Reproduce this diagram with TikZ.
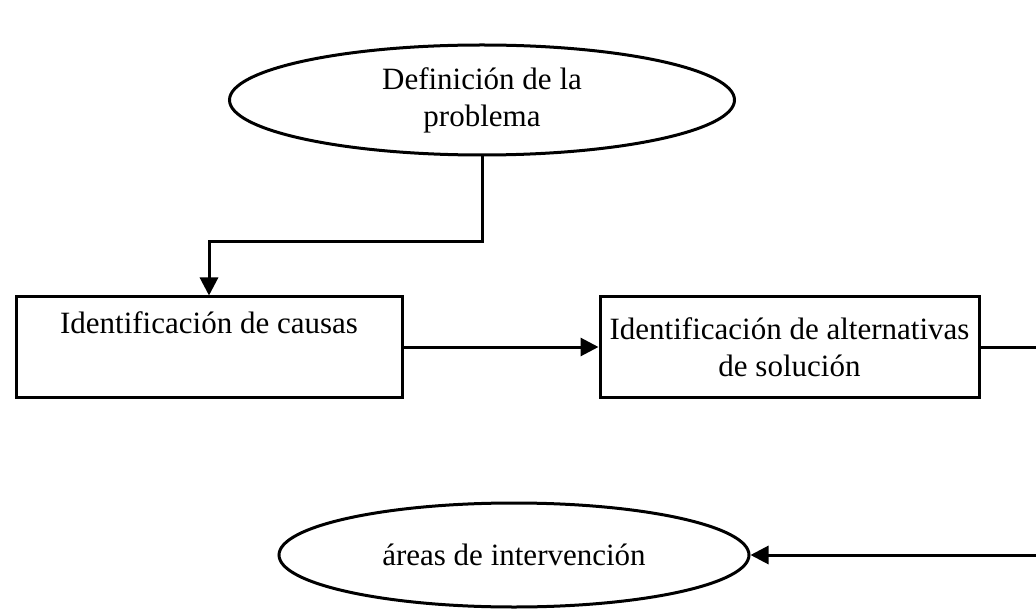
\documentclass[tikz,border=0pt]{standalone}
\usepackage{fontspec}
\setmainfont{Liberation Serif}
\usetikzlibrary{arrows.meta,shapes.geometric}
\begin{document}
\begin{tikzpicture}[x=1pt,y=-1pt,
  every node/.style={font=\fontsize{31}{37}\selectfont, align=center, line width=3pt, inner sep=0pt},
  ovalbox/.style={draw, ellipse},
  rectbox/.style={draw, rectangle, minimum width=386pt, minimum height=100pt},
  conn/.style={line width=3pt, -{Triangle[length=18pt,width=18pt]}}]
\useasboundingbox (0,0) rectangle (1036,612);
\node[ovalbox, minimum width=505pt, minimum height=110pt] (e1) at (482,100) {Definición de la\\problema};
\node[rectbox] (r1) at (209,347) {Identificación de causas\\\strut};
\node[rectbox, minimum width=379pt] (r2) at (789.5,347) {Identificación de alternativas\\de solución};
\node[ovalbox, minimum width=470pt, minimum height=104pt] (e2) at (514,555) {áreas de intervención};
\coordinate (edge) at (1050,347);
\draw[conn] (e1.south) -- ++(0,85) -| (r1.north);
\draw[conn] (r1.east) -- (r2.west);
\draw[conn] (r2.east) -- (edge) |- (e2.east);
\end{tikzpicture}
\end{document}
